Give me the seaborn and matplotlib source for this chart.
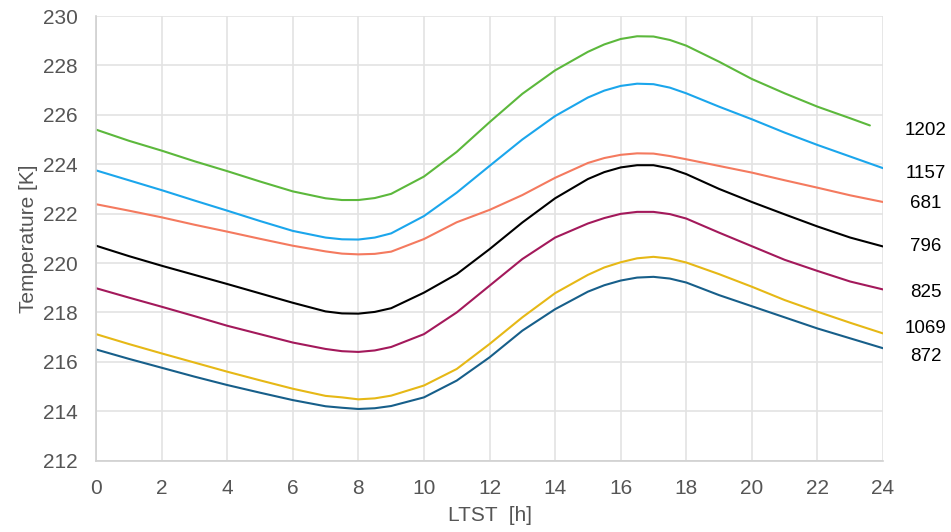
import numpy as np
import pandas as pd
import matplotlib
matplotlib.use("Agg")
import matplotlib.pyplot as plt
from matplotlib.ticker import MultipleLocator
import seaborn as sns

# --- Data ---
hours = [0, 1, 2, 3, 4, 5, 6, 7, 7.5, 8, 8.5, 9, 10, 11, 12, 13, 14, 15, 15.5, 16, 16.5,
         17, 17.5, 18, 19, 20, 21, 22, 23, 24]
hours_1202 = hours[:-1] + [23.6]

t_1202 = [225.40, 224.95, 224.55, 224.12, 223.72, 223.30, 222.90, 222.62, 222.55, 222.55, 222.63,
          222.80, 223.50, 224.50, 225.70, 226.85, 227.80, 228.55, 228.85, 229.07, 229.18,
          229.17, 229.03, 228.80, 228.15, 227.45, 226.87, 226.33, 225.86, 225.57]
t_1157 = [223.75, 223.35, 222.95, 222.53, 222.12, 221.70, 221.30, 221.03, 220.96, 220.95, 221.03,
          221.20, 221.90, 222.85, 223.93, 225.00, 225.95, 226.70, 226.98, 227.17, 227.26,
          227.24, 227.10, 226.87, 226.33, 225.82, 225.28, 224.78, 224.31, 223.84]
t_681 = [222.38, 222.12, 221.85, 221.55, 221.27, 220.98, 220.70, 220.47, 220.38, 220.35, 220.37,
         220.46, 220.97, 221.65, 222.15, 222.75, 223.45, 224.05, 224.25, 224.38, 224.44,
         224.43, 224.33, 224.20, 223.93, 223.66, 223.35, 223.05, 222.74, 222.47]
t_796 = [220.70, 220.28, 219.89, 219.52, 219.15, 218.77, 218.39, 218.04, 217.96, 217.95, 218.02,
         218.17, 218.80, 219.55, 220.56, 221.64, 222.62, 223.40, 223.68, 223.87, 223.96,
         223.96, 223.83, 223.60, 223.00, 222.47, 221.97, 221.48, 221.03, 220.67]
t_825 = [218.98, 218.60, 218.23, 217.85, 217.46, 217.12, 216.78, 216.52, 216.43, 216.40, 216.46,
         216.60, 217.12, 218.00, 219.08, 220.16, 221.03, 221.60, 221.82, 221.99, 222.07,
         222.07, 221.98, 221.80, 221.23, 220.68, 220.13, 219.68, 219.25, 218.93]
t_1069 = [217.12, 216.72, 216.34, 215.97, 215.60, 215.25, 214.91, 214.62, 214.56, 214.48, 214.52,
          214.63, 215.04, 215.71, 216.72, 217.80, 218.78, 219.52, 219.82, 220.03, 220.19,
          220.25, 220.18, 220.02, 219.55, 219.04, 218.50, 218.03, 217.58, 217.15]
t_872 = [216.50, 216.12, 215.76, 215.40, 215.06, 214.75, 214.45, 214.20, 214.14, 214.09, 214.12,
         214.21, 214.56, 215.24, 216.18, 217.26, 218.13, 218.84, 219.10, 219.29, 219.41,
         219.44, 219.37, 219.21, 218.70, 218.25, 217.80, 217.35, 216.95, 216.55]

labels = ["1202", "1157", "681", "796", "825", "1069", "872"]
label_y = [225.38, 223.64, 222.39, 220.65, 218.79, 217.33, 216.20]
colors = ["#5cb83c", "#1ba6ec", "#f47a5f", "#000000", "#a3195b", "#e6b816", "#175f8a"]
series = [(hours_1202, t_1202), (hours, t_1157), (hours, t_681), (hours, t_796),
          (hours, t_825), (hours, t_1069), (hours, t_872)]

# --- Plot ---
sns.set_style("white")
plt.rcParams['font.family'] = ['Liberation Sans', 'DejaVu Sans']

fig = plt.figure(figsize=(9.51, 5.32), dpi=100)
ax = fig.add_axes([0.101, 0.1342, 0.8275, 0.8357])

for (x, y), c in zip(series, colors):
    sns.lineplot(x=x, y=y, color=c, linewidth=1.5, ax=ax)

for lab, ly in zip(labels, label_y):
    ax.text(25.3, ly, lab, ha="center", va="center", fontsize=13.5, color="black", clip_on=False)

ax.set_xlim(0, 24)
ax.set_ylim(212, 230)
ax.xaxis.set_major_locator(MultipleLocator(2))
ax.xaxis.set_minor_locator(MultipleLocator(0.5))
ax.yaxis.set_major_locator(MultipleLocator(2))
ax.yaxis.set_minor_locator(MultipleLocator(0.4))
ax.grid(True, which="major", color="#e3e3e3", linewidth=1.2)
ax.tick_params(which="major", length=0, labelsize=15, labelcolor="#555555", pad=13)
ax.tick_params(which="minor", direction="in", length=4, color="#cccccc", width=1)
for s in ["top", "right"]:
    ax.spines[s].set_visible(False)
for s in ["left", "bottom"]:
    ax.spines[s].set_color("#d0d0d0")
    ax.spines[s].set_linewidth(1.2)

ax.set_xlabel("LTST  [h]", fontsize=15, color="#555555", labelpad=6)
ax.set_ylabel("Temperature [K]", fontsize=15, color="#555555", labelpad=4)

fig.savefig("out.png", dpi=100)
